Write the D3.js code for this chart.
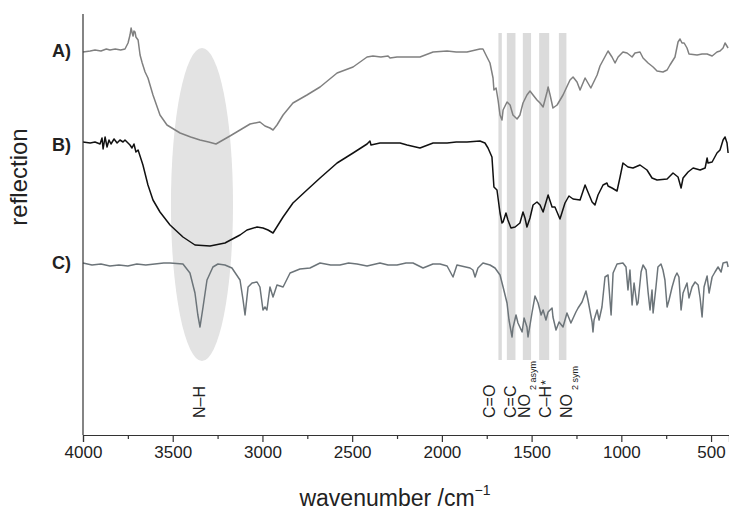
<!DOCTYPE html>
<html>
<head>
<meta charset="utf-8">
<script src="https://cdn.jsdelivr.net/npm/d3@7"></script>
<style>
  body { margin: 0; background: #fff; }
  svg { display: block; font-family: Arial, "Liberation Sans", sans-serif; }
</style>
</head>
<body>
<div class="chart"></div>
<script>
// spectra: [wavenumber /cm-1, reflection (a.u., offset)]
const specA = [
  [4000,383],[3960,384],[3933,385],[3900,384],[3870,386],[3850,385],[3820,386],[3790,385],[3766,386],
  [3749,392],[3738,400],[3732,407],[3726,402],[3721,399],[3716,404],[3710,403],[3705,398],[3693,395],
  [3682,380],[3670,372],[3654,363],[3638,357],[3610,340],[3571,320],[3532,310],[3459,302],[3400,298],
  [3348,295],[3300,293],[3259,291],[3220,295],[3181,299],[3125,305],[3069,311],[3014,313],[2986,309],
  [2958,307],[2941,305],[2919,310],[2885,320],[2830,332],[2752,340],[2679,348],[2584,362],[2495,368],
  [2417,378],[2384,379],[2340,378],[2300,379],[2289,377],[2250,378],[2194,378],[2122,378],[2049,383],
  [1971,384],[1920,383],[1860,383],[1788,386],[1771,386],[1749,378],[1732,372],[1715,357],[1710,345],
  [1698,347],[1687,335],[1676,320],[1665,315],[1659,325],[1637,333],[1620,330],[1604,320],[1581,316],
  [1565,320],[1548,332],[1526,340],[1509,344],[1492,340],[1470,335],[1453,332],[1436,328],[1414,343],
  [1408,348],[1397,340],[1381,327],[1358,330],[1325,340],[1286,355],[1269,358],[1247,353],[1230,345],
  [1202,357],[1186,352],[1170,347],[1135,360],[1119,369],[1074,384],[1052,378],[1035,372],[1018,378],
  [991,383],[968,382],[940,378],[924,382],[896,383],[879,377],[851,372],[823,368],[801,364],[768,363],
  [745,365],[729,370],[701,378],[684,393],[673,396],[662,392],[650,392],[634,387],[623,381],[578,380],
  [550,381],[522,381],[494,379],[467,383],[450,384],[433,387],[422,392],[405,387]
];

const specB = [
  [4000,293],[3960,292],[3933,293],[3905,291],[3894,297],[3888,286],[3877,298],[3866,288],[3855,295],
  [3844,291],[3827,296],[3810,292],[3794,295],[3777,293],[3766,295],[3738,290],[3727,287],[3716,291],
  [3705,283],[3693,285],[3666,270],[3638,250],[3610,235],[3571,223],[3515,210],[3443,198],[3376,190],
  [3292,189],[3209,192],[3125,200],[3086,205],[3030,208],[2997,207],[2969,205],[2941,202],[2913,210],
  [2885,218],[2830,232],[2752,245],[2679,257],[2584,272],[2495,282],[2417,291],[2401,294],[2395,290],
  [2345,292],[2272,292],[2233,292],[2194,290],[2122,287],[2049,292],[1971,292],[1920,293],[1860,293],
  [1788,294],[1760,292],[1743,287],[1721,278],[1710,248],[1693,245],[1676,222],[1665,212],[1659,213],
  [1643,222],[1632,215],[1615,207],[1592,208],[1565,212],[1548,223],[1537,217],[1526,208],[1509,217],
  [1492,230],[1470,233],[1453,230],[1436,223],[1408,240],[1386,228],[1370,228],[1342,216],[1314,232],
  [1292,239],[1269,236],[1230,235],[1202,250],[1186,243],[1163,233],[1147,230],[1130,240],[1102,250],
  [1080,252],[1074,249],[1052,247],[1024,244],[1007,258],[991,272],[963,268],[935,267],[896,270],
  [857,265],[829,257],[801,255],[745,256],[712,262],[684,258],[667,247],[656,257],[628,263],[600,267],
  [561,265],[533,267],[522,277],[517,272],[494,273],[467,282],[450,285],[433,295],[422,298],[411,292],
  [405,282]
];

const specC = [
  [4000,172],[3950,170],[3900,171],[3850,169],[3800,170],[3750,169],[3700,171],[3650,170],[3600,171],
  [3550,172],[3515,172],[3443,171],[3404,162],[3376,142],[3360,120],[3348,108],[3331,128],[3309,155],
  [3276,168],[3248,171],[3209,170],[3170,167],[3125,155],[3108,135],[3097,120],[3080,148],[3058,152],
  [3030,153],[3014,148],[2997,125],[2986,128],[2975,125],[2958,148],[2941,138],[2919,150],[2885,148],
  [2846,162],[2791,166],[2735,167],[2679,172],[2620,170],[2568,170],[2520,172],[2473,171],[2417,169],
  [2345,172],[2300,170],[2250,170],[2200,172],[2161,172],[2105,167],[2050,171],[2010,171],[1971,169],
  [1938,158],[1916,170],[1843,167],[1827,165],[1815,158],[1799,167],[1771,172],[1732,170],[1704,167],
  [1676,160],[1659,148],[1637,132],[1626,115],[1609,98],[1604,107],[1587,120],[1576,112],[1553,103],
  [1542,117],[1526,108],[1520,98],[1498,122],[1481,139],[1464,132],[1447,120],[1436,125],[1420,115],
  [1408,123],[1386,127],[1381,118],[1364,105],[1347,113],[1325,108],[1303,122],[1292,117],[1281,112],
  [1253,123],[1241,127],[1219,133],[1197,144],[1186,135],[1163,113],[1158,103],[1152,115],[1135,125],
  [1124,115],[1108,128],[1091,158],[1074,160],[1057,120],[1046,162],[1024,171],[991,172],[974,168],
  [963,145],[952,165],[940,130],[929,152],[913,130],[907,132],[890,163],[879,170],[862,165],[851,143],
  [840,125],[829,145],[823,122],[807,148],[796,168],[779,171],[768,165],[757,155],[745,128],[734,135],
  [717,148],[701,158],[690,162],[679,158],[667,125],[656,142],[634,152],[623,137],[606,148],[589,153],
  [572,150],[561,137],[550,118],[539,148],[522,159],[511,142],[494,158],[478,163],[461,168],[444,163],
  [433,172],[411,173],[405,168]
];

const spectra = ["A)", "B)", "C)"];
const spectrumColors = ["#808080", "#111111", "#6c7479"];
const labelLevel = [378, 284, 166];

// N-H ellipse: centre wavenumber, half width, reflection top/bottom
const nhBand = [3337, 173, 387, 74];
// marked bands [from, to] cm-1
const bands = [[1685,1666],[1638,1590],[1549,1503],[1458,1402],[1348,1306]];
const bandTop = 402, bandBottom = 75;

const majorTicks = [4000, 3500, 3000, 2500, 2000, 1500, 1000, 500];
const minorTicks = [3750, 3250, 2750, 2250, 1750, 1250, 750];

const W = 729, H = 513;
const margin = {top: 14, right: 0, bottom: 78, left: 83};

const svg = d3.select(".chart").append("svg")
    .attr("width", W).attr("height", H);

const x = d3.scaleLinear().domain([4000, 400]).range([margin.left, W - margin.right]);
const y = d3.scaleLinear().domain([0, 421]).range([H - margin.bottom, margin.top]);

// grey marks first, spectra on top
svg.append("ellipse")
    .attr("cx", x(nhBand[0]))
    .attr("cy", (y(nhBand[2]) + y(nhBand[3])) / 2)
    .attr("rx", x(nhBand[0] - nhBand[1]) - x(nhBand[0]))
    .attr("ry", (y(nhBand[3]) - y(nhBand[2])) / 2)
    .attr("fill", "#e3e3e3");

svg.selectAll("rect.band").data(bands).join("rect")
    .attr("class", "band")
    .attr("x", d => x(d[0]))
    .attr("width", d => x(d[1]) - x(d[0]))
    .attr("y", y(bandTop))
    .attr("height", y(bandBottom) - y(bandTop))
    .attr("fill", "#dbdbdb");

const line = d3.line().x(d => x(d[0])).y(d => y(d[1]));
[specA, specB, specC].forEach((s, i) => {
    svg.append("path").datum(s)
        .attr("d", line)
        .attr("fill", "none")
        .attr("stroke", spectrumColors[i])
        .attr("stroke-width", 1.5)
        .attr("stroke-linejoin", "round");
    svg.append("text")
        .attr("x", x(4000) - 12).attr("y", y(labelLevel[i]))
        .attr("text-anchor", "end")
        .attr("font-size", 18).attr("font-weight", "bold")
        .attr("fill", "#222")
        .text(spectra[i]);
});

// axes
const xAxis = d3.axisBottom(x).tickValues(majorTicks).tickSize(7).tickPadding(4).tickFormat(d3.format("d"));
const gx = svg.append("g").attr("transform", `translate(0,${H - margin.bottom})`).call(xAxis);
gx.select(".domain").attr("stroke", "#333").attr("stroke-width", 1.2);
gx.selectAll(".tick line").attr("stroke", "#333").attr("stroke-width", 1.2);
gx.selectAll(".tick text").attr("font-size", 17).attr("fill", "#222").attr("font-family", "Arial, 'Liberation Sans', sans-serif");

svg.append("g").attr("transform", `translate(0,${H - margin.bottom})`)
    .call(d3.axisBottom(x).tickValues(minorTicks).tickSize(4).tickFormat(""))
    .call(g => g.select(".domain").remove())
    .selectAll(".tick line").attr("stroke", "#333").attr("stroke-width", 1.2);

svg.append("line")
    .attr("x1", margin.left).attr("x2", margin.left)
    .attr("y1", margin.top).attr("y2", H - margin.bottom)
    .attr("stroke", "#333").attr("stroke-width", 1.2);

// axis titles
const xt = svg.append("text")
    .attr("x", 395).attr("y", 506)
    .attr("text-anchor", "middle")
    .attr("font-size", 23).attr("fill", "#222")
    .text("wavenumber /cm");
xt.append("tspan").attr("font-size", 14).attr("dy", -11).text("\u22121");

svg.append("text")
    .attr("transform", "translate(27,177) rotate(-90)")
    .attr("text-anchor", "middle")
    .attr("font-size", 24).attr("fill", "#222")
    .text("reflection");

// vibration labels, rotated
const vibLabels = ["N\u2013H", "C=O", "C=C", "NO", "C\u2013H", "NO"];
const vibSub = ["", "", "", "2 asym", "", "2 sym"];
const vibSup = ["", "", "", "", "*", ""];
const vibWn = [3348, 1737, 1615, 1542, 1420, 1308];

vibLabels.forEach((t, i) => {
    const tx = svg.append("text")
        .attr("transform", `translate(${x(vibWn[i]) + 5.5},418) rotate(-90)`)
        .attr("font-size", 16).attr("fill", "#222")
        .text(t);
    if (vibSub[i] != "") tx.append("tspan").attr("font-size", 9).attr("dx", 4).attr("dy", 6).text(vibSub[i]);
    if (vibSup[i] != "") tx.append("tspan").attr("font-size", 13).attr("dx", 1).attr("dy", -1).text(vibSup[i]);
});
</script>
</body>
</html>
